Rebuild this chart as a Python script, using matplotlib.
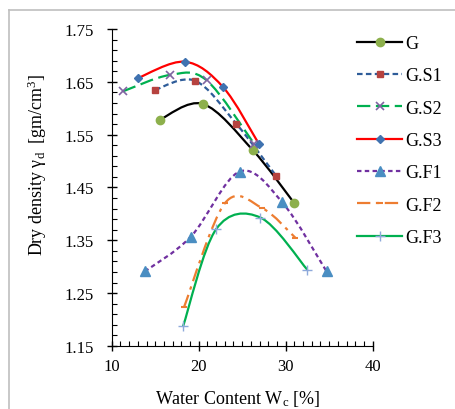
import matplotlib
matplotlib.use('Agg')
import matplotlib.pyplot as plt
import numpy as np
from matplotlib.path import Path
from matplotlib.patches import PathPatch
from matplotlib.lines import Line2D
from matplotlib.ticker import MultipleLocator

plt.rcParams['font.family'] = ['Liberation Serif', 'DejaVu Serif']
plt.rcParams['mathtext.fontset'] = 'custom'
plt.rcParams['mathtext.rm'] = 'Liberation Serif'
plt.rcParams['mathtext.it'] = 'Liberation Serif:italic'

# data
x_G = [15.5, 20.5, 26.2, 31.0]
y_G = [1.578, 1.608, 1.521, 1.420]
x_GS1 = [15.0, 19.6, 24.3, 28.9]
y_GS1 = [1.635, 1.652, 1.571, 1.472]
x_GS2 = [11.3, 16.7, 20.9, 26.4]
y_GS2 = [1.632, 1.663, 1.653, 1.532]
x_GS3 = [13.0, 18.4, 22.8, 26.9]
y_GS3 = [1.657, 1.688, 1.640, 1.533]
x_GF1 = [13.8, 19.1, 24.7, 29.6, 34.7]
y_GF1 = [1.291, 1.357, 1.480, 1.422, 1.291]
x_GF2 = [18.3, 23.0, 27.3, 31.1]
y_GF2 = [1.223, 1.420, 1.411, 1.355]
x_GF3 = [18.2, 22.0, 27.1, 32.5]
y_GF3 = [1.187, 1.371, 1.393, 1.294]

labels = ['G', 'G.S1', 'G.S2', 'G.S3', 'G.F1', 'G.F2', 'G.F3']
y_ticks = [1.15, 1.25, 1.35, 1.45, 1.55, 1.65, 1.75]


def smooth_path(x, y):
    # excel-like smoothed line: catmull-rom as cubic bezier segments
    p = np.column_stack([x, y]).astype(float)
    n = len(p)
    verts = [p[0]]
    codes = [Path.MOVETO]
    for i in range(n - 1):
        p0 = p[i - 1] if i > 0 else p[i]
        p3 = p[i + 2] if i + 2 < n else p[i + 1]
        c1 = p[i] + (p[i + 1] - p0) / 6.0
        c2 = p[i + 1] - (p3 - p[i]) / 6.0
        verts += [c1, c2, p[i + 1]]
        codes += [Path.CURVE4] * 3
    return Path(verts, codes)


fig = plt.figure(figsize=(4.55, 4.1), dpi=100)
ax = fig.add_axes([0.2455, 0.1537, 0.5736, 0.7732])

series = [
    (x_G, y_G, dict(color='black', ls='-'), dict(marker='o', mfc='#8DB04C', mec='#8DB04C', ms=6)),
    (x_GS1, y_GS1, dict(color='#2E5C99', ls=(0, (2.5, 1.5))), dict(marker='s', mfc='#B6423F', mec='#B6423F', ms=4.5)),
    (x_GS2, y_GS2, dict(color='#00B050', ls=(0, (6, 2.5))), dict(marker='x', mfc='#8064A2', mec='#8064A2', ms=6, mew=1.2)),
    (x_GS3, y_GS3, dict(color='#FF0000', ls='-'), dict(marker='D', mfc='#3F72B0', mec='#3F72B0', ms=4.5)),
    (x_GF1, y_GF1, dict(color='#7030A0', ls=(0, (2, 1.5))), dict(marker='^', mfc='#4A8EC2', mec='#4A8EC2', ms=6.5)),
    (x_GF2, y_GF2, dict(color='#ED7D31', ls=(0, (6, 2.5, 1.5, 2.5))), dict(marker='_', mfc='#ED7D31', mec='#ED7D31', ms=5, mew=1.5)),
    (x_GF3, y_GF3, dict(color='#00B050', ls='-'), dict(marker='+', mfc='#8EA9DB', mec='#8EA9DB', ms=7, mew=1)),
]

handles = []
for (xs, ys, lsty, msty), lab in zip(series, labels):
    patch = PathPatch(smooth_path(xs, ys), facecolor='none', edgecolor=lsty['color'],
                      linestyle=lsty['ls'], lw=1.6, zorder=2)
    ax.add_patch(patch)
    ax.plot(xs, ys, ls='none', zorder=3, **msty)
    handles.append(Line2D([], [], color=lsty['color'], ls=lsty['ls'], lw=1.6, **msty))

ax.set_xlim(10, 40)
ax.set_ylim(1.15, 1.75)
ax.xaxis.set_major_locator(MultipleLocator(10))
ax.xaxis.set_minor_locator(MultipleLocator(1))
ax.set_yticks(y_ticks)
ax.set_yticklabels(['%.2f' % v for v in y_ticks])
ax.yaxis.set_minor_locator(MultipleLocator(0.02, offset=0.01))
ax.spines['top'].set_visible(False)
ax.spines['right'].set_visible(False)
ax.tick_params(which='major', direction='inout', length=7, width=1, labelsize=12)
ax.tick_params(which='minor', direction='in', length=3.5, width=0.8)
ax.tick_params(axis='y', which='major', pad=9.5)
ax.tick_params(axis='x', which='major', pad=5.5)

ax.set_xlabel('Water Content W$_\\mathregular{c}$ [%]', fontsize=13)
ax.set_ylabel('Dry density γ$_\\mathregular{d}$  [gm/cm$^\\mathregular{3}$]', fontsize=13)
ax.xaxis.set_label_coords(0.482, -0.132)
ax.yaxis.set_label_coords(-0.24, 0.574)

ax.legend(handles, labels, loc='upper left', bbox_to_anchor=(0.7846, 0.912),
          bbox_transform=fig.transFigure, frameon=False, fontsize=13,
          handlelength=2.5, handletextpad=0.2, labelspacing=0.85,
          borderpad=0, borderaxespad=0)

# light frame round the chart
fig.add_artist(plt.Line2D([9 / 455, 9 / 455], [0, 1 - 11 / 410], color='#BFBFBF', lw=1.2,
                          transform=fig.transFigure))
fig.add_artist(plt.Line2D([9 / 455, 1], [1 - 11 / 410, 1 - 11 / 410], color='#BFBFBF', lw=1.2,
                          transform=fig.transFigure))

fig.savefig('out.png', dpi=100)
